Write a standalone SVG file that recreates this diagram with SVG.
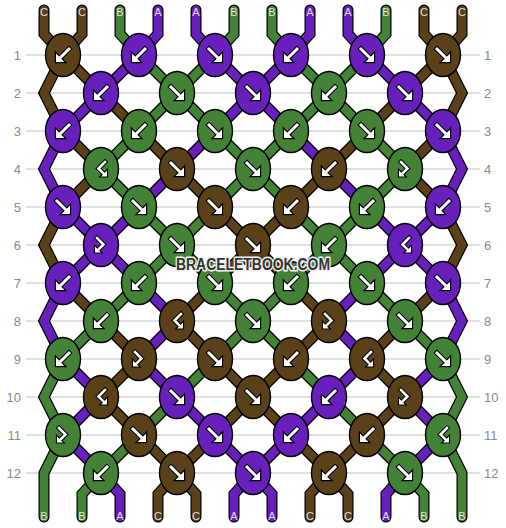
<svg xmlns="http://www.w3.org/2000/svg" xmlns:xlink="http://www.w3.org/1999/xlink" width="506" height="528" viewBox="0 0 506 528">
<style>
.grid line{stroke:#c4c4c4;stroke-width:1}
.rl{font-family:"Liberation Sans",Arial,sans-serif;font-size:13px;fill:#8a8a8a}
.sl{font-family:"Liberation Sans",Arial,sans-serif;font-size:11px;fill:#fff;fill-opacity:0.85;text-anchor:middle}
.str path{fill:none;stroke-linejoin:miter;stroke-linecap:round}
.str path.o{stroke:#000;stroke-width:11}
.str path.c{stroke-width:8.6}
path.C{stroke:#5A411A}
path.B{stroke:#438237}
path.A{stroke:#6820BC}
.knot ellipse{stroke:#000;stroke-width:1.4}
ellipse.C{fill:#5A411A}
ellipse.B{fill:#438237}
ellipse.A{fill:#6820BC}
.wm{font-family:"Liberation Sans",Arial,sans-serif;font-weight:bold;font-size:16px;fill:#333;stroke:#f4f4f4;stroke-width:3;paint-order:stroke;stroke-linejoin:round;text-anchor:middle}
</style>
<defs>
<g id="aF">
<path d="M-6,-6 L3,3" stroke="#000" stroke-width="5" stroke-linecap="square" fill="none"/>
<path d="M7,7 L7,-1.5 L-1.5,7 Z" fill="#000" stroke="#000" stroke-width="2.4" stroke-linejoin="miter"/>
<path d="M-6,-6 L3,3" stroke="#fff" stroke-width="3" stroke-linecap="square" fill="none"/>
<path d="M7,7 L7,-1.5 L-1.5,7 Z" fill="#fff"/>
</g>
<g id="aB"><use href="#aF" transform="scale(-1,1)"/></g>
<g id="aFB">
<path d="M-4,-7 L2.5,-0.5 L-2.5,4.5" stroke="#000" stroke-width="4.6" stroke-linecap="square" stroke-linejoin="miter" fill="none"/>
<path d="M-6,7.5 L-6,1.5 L0,7.5 Z" fill="#000" stroke="#000" stroke-width="2.2"/>
<path d="M-4,-7 L2.5,-0.5 L-2.5,4.5" stroke="#fff" stroke-width="2.6" stroke-linecap="square" stroke-linejoin="miter" fill="none"/>
<path d="M-6,7.5 L-6,1.5 L0,7.5 Z" fill="#fff"/>
</g>
<g id="aBF"><use href="#aFB" transform="scale(-1,1)"/></g>
</defs>
<rect width="506" height="528" fill="#fff"/>
<g class="grid">
<line x1="26" y1="55" x2="480" y2="55"/><line x1="26" y1="93" x2="480" y2="93"/><line x1="26" y1="131" x2="480" y2="131"/><line x1="26" y1="169" x2="480" y2="169"/><line x1="26" y1="207" x2="480" y2="207"/><line x1="26" y1="245" x2="480" y2="245"/><line x1="26" y1="283" x2="480" y2="283"/><line x1="26" y1="321" x2="480" y2="321"/><line x1="26" y1="359" x2="480" y2="359"/><line x1="26" y1="397" x2="480" y2="397"/><line x1="26" y1="435" x2="480" y2="435"/><line x1="26" y1="473" x2="480" y2="473"/>
</g>
<g class="rowlabels">
<text class="rl" x="21" y="60" text-anchor="end">1</text><text class="rl" x="21" y="98" text-anchor="end">2</text><text class="rl" x="21" y="136" text-anchor="end">3</text><text class="rl" x="21" y="174" text-anchor="end">4</text><text class="rl" x="21" y="212" text-anchor="end">5</text><text class="rl" x="21" y="250" text-anchor="end">6</text><text class="rl" x="21" y="288" text-anchor="end">7</text><text class="rl" x="21" y="326" text-anchor="end">8</text><text class="rl" x="21" y="364" text-anchor="end">9</text><text class="rl" x="21" y="402" text-anchor="end">10</text><text class="rl" x="21" y="440" text-anchor="end">11</text><text class="rl" x="21" y="478" text-anchor="end">12</text>
<text class="rl" x="484" y="60">1</text><text class="rl" x="484" y="98">2</text><text class="rl" x="484" y="136">3</text><text class="rl" x="484" y="174">4</text><text class="rl" x="484" y="212">5</text><text class="rl" x="484" y="250">6</text><text class="rl" x="484" y="288">7</text><text class="rl" x="484" y="326">8</text><text class="rl" x="484" y="364">9</text><text class="rl" x="484" y="402">10</text><text class="rl" x="484" y="440">11</text><text class="rl" x="484" y="478">12</text>
</g>
<g id="connectors" class="str">
<g id="s0"><path class="o" d="M44,10 L44,34 L63,55 L101,93 L139,131 L177,169 L215,207 L253,245 L291,283 L329,321 L291,359 L253,397 L215,435 L177,473 L158,494 L158,517"/><path class="c C" d="M44,10 L44,34 L63,55 L101,93 L139,131 L177,169 L215,207 L253,245 L291,283 L329,321 L291,359 L253,397 L215,435 L177,473 L158,494 L158,517"/></g>
<g id="s1"><path class="o" d="M82,10 L82,34 L63,55 L44,93 L63,131 L101,169 L63,207 L44,245 L63,283 L101,321 L139,359 L101,397 L139,435 L177,473 L196,494 L196,517"/><path class="c C" d="M82,10 L82,34 L63,55 L44,93 L63,131 L101,169 L63,207 L44,245 L63,283 L101,321 L139,359 L101,397 L139,435 L177,473 L196,494 L196,517"/></g>
<g id="s2"><path class="o" d="M120,10 L120,34 L139,55 L177,93 L215,131 L253,169 L291,207 L329,245 L367,283 L405,321 L443,359 L462,397 L443,435 L462,473 L462,517"/><path class="c B" d="M120,10 L120,34 L139,55 L177,93 L215,131 L253,169 L291,207 L329,245 L367,283 L405,321 L443,359 L462,397 L443,435 L462,473 L462,517"/></g>
<g id="s3"><path class="o" d="M158,10 L158,34 L139,55 L101,93 L63,131 L44,169 L63,207 L101,245 L63,283 L44,321 L63,359 L101,397 L63,435 L101,473 L120,494 L120,517"/><path class="c A" d="M158,10 L158,34 L139,55 L101,93 L63,131 L44,169 L63,207 L101,245 L63,283 L44,321 L63,359 L101,397 L63,435 L101,473 L120,494 L120,517"/></g>
<g id="s4"><path class="o" d="M196,10 L196,34 L215,55 L253,93 L291,131 L329,169 L367,207 L405,245 L367,283 L329,321 L367,359 L329,397 L291,435 L253,473 L234,494 L234,517"/><path class="c A" d="M196,10 L196,34 L215,55 L253,93 L291,131 L329,169 L367,207 L405,245 L367,283 L329,321 L367,359 L329,397 L291,435 L253,473 L234,494 L234,517"/></g>
<g id="s5"><path class="o" d="M234,10 L234,34 L215,55 L177,93 L139,131 L101,169 L139,207 L177,245 L215,283 L253,321 L291,359 L329,397 L367,435 L405,473 L424,494 L424,517"/><path class="c B" d="M234,10 L234,34 L215,55 L177,93 L139,131 L101,169 L139,207 L177,245 L215,283 L253,321 L291,359 L329,397 L367,435 L405,473 L424,494 L424,517"/></g>
<g id="s6"><path class="o" d="M272,10 L272,34 L291,55 L329,93 L367,131 L405,169 L367,207 L329,245 L291,283 L253,321 L215,359 L177,397 L139,435 L101,473 L82,494 L82,517"/><path class="c B" d="M272,10 L272,34 L291,55 L329,93 L367,131 L405,169 L367,207 L329,245 L291,283 L253,321 L215,359 L177,397 L139,435 L101,473 L82,494 L82,517"/></g>
<g id="s7"><path class="o" d="M310,10 L310,34 L291,55 L253,93 L215,131 L177,169 L139,207 L101,245 L139,283 L177,321 L139,359 L177,397 L215,435 L253,473 L272,494 L272,517"/><path class="c A" d="M310,10 L310,34 L291,55 L253,93 L215,131 L177,169 L139,207 L101,245 L139,283 L177,321 L139,359 L177,397 L215,435 L253,473 L272,494 L272,517"/></g>
<g id="s8"><path class="o" d="M348,10 L348,34 L367,55 L405,93 L443,131 L462,169 L443,207 L405,245 L443,283 L462,321 L443,359 L405,397 L443,435 L405,473 L386,494 L386,517"/><path class="c A" d="M348,10 L348,34 L367,55 L405,93 L443,131 L462,169 L443,207 L405,245 L443,283 L462,321 L443,359 L405,397 L443,435 L405,473 L386,494 L386,517"/></g>
<g id="s9"><path class="o" d="M386,10 L386,34 L367,55 L329,93 L291,131 L253,169 L215,207 L177,245 L139,283 L101,321 L63,359 L44,397 L63,435 L44,473 L44,517"/><path class="c B" d="M386,10 L386,34 L367,55 L329,93 L291,131 L253,169 L215,207 L177,245 L139,283 L101,321 L63,359 L44,397 L63,435 L44,473 L44,517"/></g>
<g id="s10"><path class="o" d="M424,10 L424,34 L443,55 L462,93 L443,131 L405,169 L443,207 L462,245 L443,283 L405,321 L367,359 L405,397 L367,435 L329,473 L310,494 L310,517"/><path class="c C" d="M424,10 L424,34 L443,55 L462,93 L443,131 L405,169 L443,207 L462,245 L443,283 L405,321 L367,359 L405,397 L367,435 L329,473 L310,494 L310,517"/></g>
<g id="s11"><path class="o" d="M462,10 L462,34 L443,55 L405,93 L367,131 L329,169 L291,207 L253,245 L215,283 L177,321 L215,359 L253,397 L291,435 L329,473 L348,494 L348,517"/><path class="c C" d="M462,10 L462,34 L443,55 L405,93 L367,131 L329,169 L291,207 L253,245 L215,283 L177,321 L215,359 L253,397 L291,435 L329,473 L348,494 L348,517"/></g>
</g>
<g class="strandlabels">
<text class="sl" x="44" y="16">C</text><text class="sl" x="82" y="16">C</text><text class="sl" x="120" y="16">B</text><text class="sl" x="158" y="16">A</text><text class="sl" x="196" y="16">A</text><text class="sl" x="234" y="16">B</text><text class="sl" x="272" y="16">B</text><text class="sl" x="310" y="16">A</text><text class="sl" x="348" y="16">A</text><text class="sl" x="386" y="16">B</text><text class="sl" x="424" y="16">C</text><text class="sl" x="462" y="16">C</text>
<text class="sl" x="44" y="520">B</text><text class="sl" x="82" y="520">B</text><text class="sl" x="120" y="520">A</text><text class="sl" x="158" y="520">C</text><text class="sl" x="196" y="520">C</text><text class="sl" x="234" y="520">A</text><text class="sl" x="272" y="520">A</text><text class="sl" x="310" y="520">C</text><text class="sl" x="348" y="520">C</text><text class="sl" x="386" y="520">A</text><text class="sl" x="424" y="520">B</text><text class="sl" x="462" y="520">B</text>
</g>
<g id="knots">
<g id="k1-1" class="knot"><ellipse class="C" cx="63" cy="55" rx="17.5" ry="21.5"/><use href="#aB" x="63" y="55"/></g>
<g id="k1-2" class="knot"><ellipse class="A" cx="139" cy="55" rx="17.5" ry="21.5"/><use href="#aB" x="139" y="55"/></g>
<g id="k1-3" class="knot"><ellipse class="A" cx="215" cy="55" rx="17.5" ry="21.5"/><use href="#aF" x="215" y="55"/></g>
<g id="k1-4" class="knot"><ellipse class="A" cx="291" cy="55" rx="17.5" ry="21.5"/><use href="#aB" x="291" y="55"/></g>
<g id="k1-5" class="knot"><ellipse class="A" cx="367" cy="55" rx="17.5" ry="21.5"/><use href="#aF" x="367" y="55"/></g>
<g id="k1-6" class="knot"><ellipse class="C" cx="443" cy="55" rx="17.5" ry="21.5"/><use href="#aF" x="443" y="55"/></g>
<g id="k2-1" class="knot"><ellipse class="A" cx="101" cy="93" rx="17.5" ry="21.5"/><use href="#aB" x="101" y="93"/></g>
<g id="k2-2" class="knot"><ellipse class="B" cx="177" cy="93" rx="17.5" ry="21.5"/><use href="#aF" x="177" y="93"/></g>
<g id="k2-3" class="knot"><ellipse class="A" cx="253" cy="93" rx="17.5" ry="21.5"/><use href="#aF" x="253" y="93"/></g>
<g id="k2-4" class="knot"><ellipse class="B" cx="329" cy="93" rx="17.5" ry="21.5"/><use href="#aB" x="329" y="93"/></g>
<g id="k2-5" class="knot"><ellipse class="A" cx="405" cy="93" rx="17.5" ry="21.5"/><use href="#aF" x="405" y="93"/></g>
<g id="k3-1" class="knot"><ellipse class="A" cx="63" cy="131" rx="17.5" ry="21.5"/><use href="#aB" x="63" y="131"/></g>
<g id="k3-2" class="knot"><ellipse class="B" cx="139" cy="131" rx="17.5" ry="21.5"/><use href="#aB" x="139" y="131"/></g>
<g id="k3-3" class="knot"><ellipse class="B" cx="215" cy="131" rx="17.5" ry="21.5"/><use href="#aF" x="215" y="131"/></g>
<g id="k3-4" class="knot"><ellipse class="B" cx="291" cy="131" rx="17.5" ry="21.5"/><use href="#aB" x="291" y="131"/></g>
<g id="k3-5" class="knot"><ellipse class="B" cx="367" cy="131" rx="17.5" ry="21.5"/><use href="#aF" x="367" y="131"/></g>
<g id="k3-6" class="knot"><ellipse class="A" cx="443" cy="131" rx="17.5" ry="21.5"/><use href="#aF" x="443" y="131"/></g>
<g id="k4-1" class="knot"><ellipse class="B" cx="101" cy="169" rx="17.5" ry="21.5"/><use href="#aBF" x="101" y="169"/></g>
<g id="k4-2" class="knot"><ellipse class="C" cx="177" cy="169" rx="17.5" ry="21.5"/><use href="#aF" x="177" y="169"/></g>
<g id="k4-3" class="knot"><ellipse class="B" cx="253" cy="169" rx="17.5" ry="21.5"/><use href="#aF" x="253" y="169"/></g>
<g id="k4-4" class="knot"><ellipse class="C" cx="329" cy="169" rx="17.5" ry="21.5"/><use href="#aB" x="329" y="169"/></g>
<g id="k4-5" class="knot"><ellipse class="B" cx="405" cy="169" rx="17.5" ry="21.5"/><use href="#aFB" x="405" y="169"/></g>
<g id="k5-1" class="knot"><ellipse class="A" cx="63" cy="207" rx="17.5" ry="21.5"/><use href="#aF" x="63" y="207"/></g>
<g id="k5-2" class="knot"><ellipse class="B" cx="139" cy="207" rx="17.5" ry="21.5"/><use href="#aF" x="139" y="207"/></g>
<g id="k5-3" class="knot"><ellipse class="C" cx="215" cy="207" rx="17.5" ry="21.5"/><use href="#aF" x="215" y="207"/></g>
<g id="k5-4" class="knot"><ellipse class="C" cx="291" cy="207" rx="17.5" ry="21.5"/><use href="#aB" x="291" y="207"/></g>
<g id="k5-5" class="knot"><ellipse class="B" cx="367" cy="207" rx="17.5" ry="21.5"/><use href="#aB" x="367" y="207"/></g>
<g id="k5-6" class="knot"><ellipse class="A" cx="443" cy="207" rx="17.5" ry="21.5"/><use href="#aB" x="443" y="207"/></g>
<g id="k6-1" class="knot"><ellipse class="A" cx="101" cy="245" rx="17.5" ry="21.5"/><use href="#aFB" x="101" y="245"/></g>
<g id="k6-2" class="knot"><ellipse class="B" cx="177" cy="245" rx="17.5" ry="21.5"/><use href="#aF" x="177" y="245"/></g>
<g id="k6-3" class="knot"><ellipse class="C" cx="253" cy="245" rx="17.5" ry="21.5"/><use href="#aF" x="253" y="245"/></g>
<g id="k6-4" class="knot"><ellipse class="B" cx="329" cy="245" rx="17.5" ry="21.5"/><use href="#aB" x="329" y="245"/></g>
<g id="k6-5" class="knot"><ellipse class="A" cx="405" cy="245" rx="17.5" ry="21.5"/><use href="#aBF" x="405" y="245"/></g>
<g id="k7-1" class="knot"><ellipse class="A" cx="63" cy="283" rx="17.5" ry="21.5"/><use href="#aB" x="63" y="283"/></g>
<g id="k7-2" class="knot"><ellipse class="B" cx="139" cy="283" rx="17.5" ry="21.5"/><use href="#aB" x="139" y="283"/></g>
<g id="k7-3" class="knot"><ellipse class="B" cx="215" cy="283" rx="17.5" ry="21.5"/><use href="#aF" x="215" y="283"/></g>
<g id="k7-4" class="knot"><ellipse class="B" cx="291" cy="283" rx="17.5" ry="21.5"/><use href="#aB" x="291" y="283"/></g>
<g id="k7-5" class="knot"><ellipse class="B" cx="367" cy="283" rx="17.5" ry="21.5"/><use href="#aF" x="367" y="283"/></g>
<g id="k7-6" class="knot"><ellipse class="A" cx="443" cy="283" rx="17.5" ry="21.5"/><use href="#aF" x="443" y="283"/></g>
<g id="k8-1" class="knot"><ellipse class="B" cx="101" cy="321" rx="17.5" ry="21.5"/><use href="#aB" x="101" y="321"/></g>
<g id="k8-2" class="knot"><ellipse class="C" cx="177" cy="321" rx="17.5" ry="21.5"/><use href="#aBF" x="177" y="321"/></g>
<g id="k8-3" class="knot"><ellipse class="B" cx="253" cy="321" rx="17.5" ry="21.5"/><use href="#aF" x="253" y="321"/></g>
<g id="k8-4" class="knot"><ellipse class="C" cx="329" cy="321" rx="17.5" ry="21.5"/><use href="#aFB" x="329" y="321"/></g>
<g id="k8-5" class="knot"><ellipse class="B" cx="405" cy="321" rx="17.5" ry="21.5"/><use href="#aF" x="405" y="321"/></g>
<g id="k9-1" class="knot"><ellipse class="B" cx="63" cy="359" rx="17.5" ry="21.5"/><use href="#aB" x="63" y="359"/></g>
<g id="k9-2" class="knot"><ellipse class="C" cx="139" cy="359" rx="17.5" ry="21.5"/><use href="#aFB" x="139" y="359"/></g>
<g id="k9-3" class="knot"><ellipse class="C" cx="215" cy="359" rx="17.5" ry="21.5"/><use href="#aF" x="215" y="359"/></g>
<g id="k9-4" class="knot"><ellipse class="C" cx="291" cy="359" rx="17.5" ry="21.5"/><use href="#aB" x="291" y="359"/></g>
<g id="k9-5" class="knot"><ellipse class="C" cx="367" cy="359" rx="17.5" ry="21.5"/><use href="#aBF" x="367" y="359"/></g>
<g id="k9-6" class="knot"><ellipse class="B" cx="443" cy="359" rx="17.5" ry="21.5"/><use href="#aF" x="443" y="359"/></g>
<g id="k10-1" class="knot"><ellipse class="C" cx="101" cy="397" rx="17.5" ry="21.5"/><use href="#aBF" x="101" y="397"/></g>
<g id="k10-2" class="knot"><ellipse class="A" cx="177" cy="397" rx="17.5" ry="21.5"/><use href="#aF" x="177" y="397"/></g>
<g id="k10-3" class="knot"><ellipse class="C" cx="253" cy="397" rx="17.5" ry="21.5"/><use href="#aF" x="253" y="397"/></g>
<g id="k10-4" class="knot"><ellipse class="A" cx="329" cy="397" rx="17.5" ry="21.5"/><use href="#aB" x="329" y="397"/></g>
<g id="k10-5" class="knot"><ellipse class="C" cx="405" cy="397" rx="17.5" ry="21.5"/><use href="#aFB" x="405" y="397"/></g>
<g id="k11-1" class="knot"><ellipse class="B" cx="63" cy="435" rx="17.5" ry="21.5"/><use href="#aFB" x="63" y="435"/></g>
<g id="k11-2" class="knot"><ellipse class="C" cx="139" cy="435" rx="17.5" ry="21.5"/><use href="#aF" x="139" y="435"/></g>
<g id="k11-3" class="knot"><ellipse class="A" cx="215" cy="435" rx="17.5" ry="21.5"/><use href="#aF" x="215" y="435"/></g>
<g id="k11-4" class="knot"><ellipse class="A" cx="291" cy="435" rx="17.5" ry="21.5"/><use href="#aB" x="291" y="435"/></g>
<g id="k11-5" class="knot"><ellipse class="C" cx="367" cy="435" rx="17.5" ry="21.5"/><use href="#aB" x="367" y="435"/></g>
<g id="k11-6" class="knot"><ellipse class="B" cx="443" cy="435" rx="17.5" ry="21.5"/><use href="#aBF" x="443" y="435"/></g>
<g id="k12-1" class="knot"><ellipse class="B" cx="101" cy="473" rx="17.5" ry="21.5"/><use href="#aB" x="101" y="473"/></g>
<g id="k12-2" class="knot"><ellipse class="C" cx="177" cy="473" rx="17.5" ry="21.5"/><use href="#aF" x="177" y="473"/></g>
<g id="k12-3" class="knot"><ellipse class="A" cx="253" cy="473" rx="17.5" ry="21.5"/><use href="#aF" x="253" y="473"/></g>
<g id="k12-4" class="knot"><ellipse class="C" cx="329" cy="473" rx="17.5" ry="21.5"/><use href="#aB" x="329" y="473"/></g>
<g id="k12-5" class="knot"><ellipse class="B" cx="405" cy="473" rx="17.5" ry="21.5"/><use href="#aF" x="405" y="473"/></g>
</g>
<text class="wm" x="253" y="270" textLength="154" lengthAdjust="spacingAndGlyphs">BRACELETBOOK.COM</text>
</svg>
